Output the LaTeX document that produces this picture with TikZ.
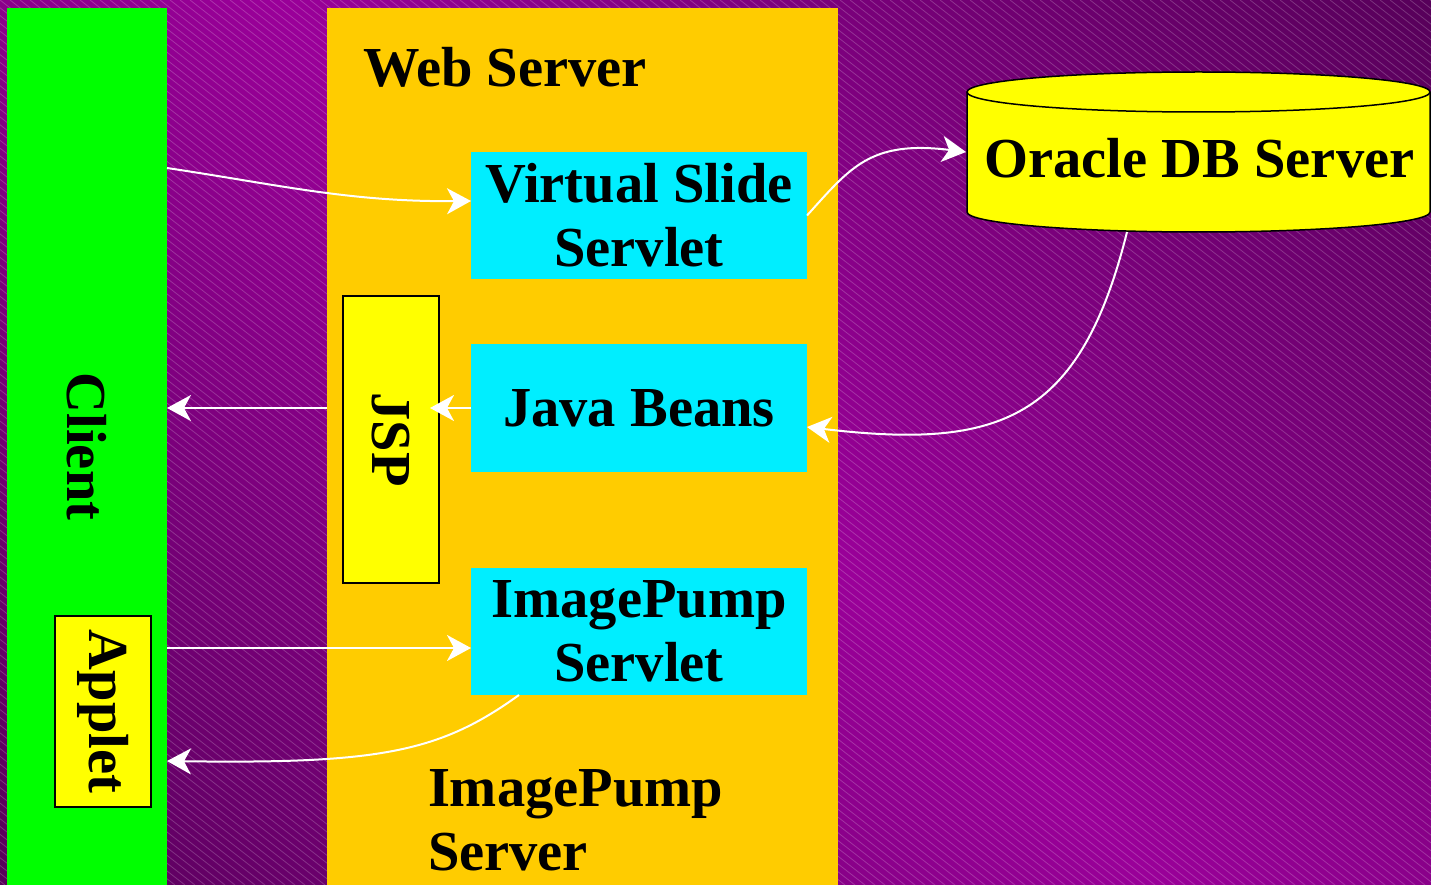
\documentclass[tikz,border=0pt]{standalone}
\usepackage{fontspec}
\setmainfont{Liberation Serif}
\usetikzlibrary{arrows.meta,calc}
\definecolor{bgbright}{HTML}{9A0099}
\definecolor{bgdark}{HTML}{3E0042}
\definecolor{clientgreen}{HTML}{00FF00}
\definecolor{serverorange}{HTML}{FFCC00}
\definecolor{servletcyan}{HTML}{00EEFF}
\definecolor{boxyellow}{HTML}{FFFF00}
\begin{document}
\begin{tikzpicture}[x=1pt,y=-1pt,
  every node/.style={font=\fontsize{56.5}{64}\selectfont\bfseries, text=black},
  hatch/.style={draw=white, opacity=0.2, line width=0.8pt},
  panel/.style={inner sep=0pt, outer sep=0pt},
  servlet/.style={fill=servletcyan, inner sep=0pt, outer sep=0pt, minimum width=336pt, minimum height=127pt, align=center},
  ybox/.style={fill=boxyellow, draw=black, line width=1.5pt, inner sep=0pt, outer sep=0pt},
  lbl/.style={inner sep=0pt, outer sep=0pt},
  conn/.style={draw=white, line width=2pt, -{Stealth[length=24pt,width=26pt,inset=7pt]}}]
\useasboundingbox (0,0) rectangle (1431,885);
% background
\begin{scope}
  \clip (0,0) rectangle (1431,885);
  \shade[top color=bgdark, bottom color=bgdark, middle color=bgbright, shading angle=-45] (-414.5,-687.5) rectangle (1845.5,1572.5);
  \foreach \i in {-1140,-1130,...,1440} \draw[hatch] (\i,0) -- ++(1135,885);
\end{scope}
% panels
\node[panel, fill=clientgreen, rotate=-90, minimum width=877pt, minimum height=160pt] (client) at (87,446.5) {Client};
\node[panel, fill=serverorange, anchor=north west, minimum width=511pt, minimum height=877pt] (ws) at (327,8) {};
\node[lbl, anchor=base west] (wslbl) at (363,87) {Web Server};
\node[lbl, anchor=north west, align=left] (iplbl) at (428,769) {ImagePump\\Server};
% servlets
\node[servlet] (vss) at (639,215.5) {Virtual Slide\\Servlet};
\node[servlet, minimum height=128pt, text depth=0pt] (jb) at (639,408) {Java Beans};
\node[servlet] (ips) at (639,631.5) {ImagePump\\Servlet};
% yellow boxes
\node[ybox, rotate=-90, minimum width=287pt, minimum height=96pt] (jsp) at (391,439.5) {JSP};
\node[ybox, rotate=-90, minimum width=191pt, minimum height=96pt] (applet) at (103,711.5) {Applet};
% database cylinder
\fill[boxyellow] (967,92) rectangle (1430,212);
\fill[boxyellow] (1198.5,212) ellipse[x radius=231.5, y radius=20];
\draw[black, line width=1.5pt] (967,92) -- (967,212) arc[start angle=180, end angle=0, x radius=231.5, y radius=20] -- (1430,92);
\filldraw[fill=boxyellow, draw=black, line width=1.5pt] (1198.5,92) ellipse[x radius=231.5, y radius=20];
\node[lbl, anchor=base] (db) at (1199.5,178) {Oracle DB Server};
\coordinate (dbin) at (966,152);
\coordinate (dbout) at (1127,232);
% connectors
\draw[conn] (client.north |- 0,168) .. controls (280,185) and (350,202) .. (vss.west |- 0,201);
\draw[conn] (vss.east) .. controls (850,168) and (870,140) .. (dbin);
\draw[conn] (dbout) .. controls (1080,420) and (1000,450) .. (jb.east |- 0,427);
\draw[conn, shorten >=-9pt] (jb.west) -- (jsp.north |- jb.west);
\draw[conn] (ws.west |- jb.west) -- (client.north |- jb.west);
\draw[conn] (client.north |- 0,648) -- (ips.west |- 0,648);
\draw[conn] ($(ips.south west)+(48,0)$) .. controls (440,752) and (380,764) .. (client.north |- 0,761);
\end{tikzpicture}
\end{document}
